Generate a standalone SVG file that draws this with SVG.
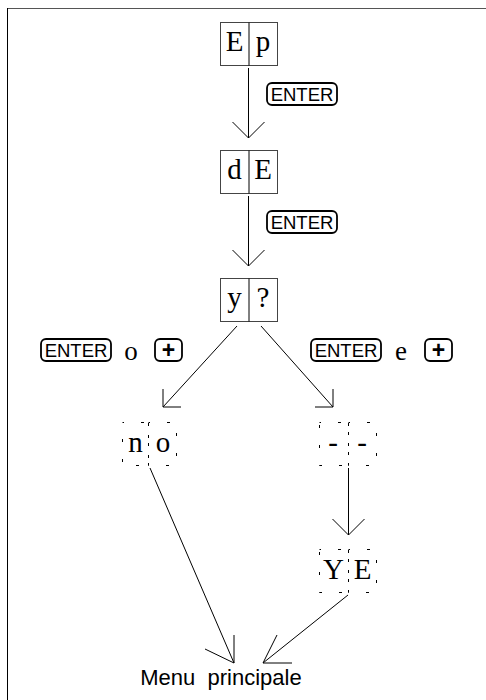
<svg xmlns="http://www.w3.org/2000/svg" width="486" height="700" viewBox="0 0 486 700">
  <style>
    .cell { fill: none; stroke: #444; stroke-width: 1; }
    .div { stroke: #000; stroke-width: 1; }
    .dash { fill: none; stroke: #000; stroke-width: 1; stroke-dasharray: 3 17; stroke-dashoffset: 1.5; }
    .ch { font-family: "Liberation Serif", serif; font-size: 29px; text-anchor: middle; fill: #000; }
    .key { fill: none; stroke: #000; stroke-width: 1.8; }
    .keyt { font-family: "Liberation Sans", Arial, sans-serif; font-size: 18.5px; text-anchor: middle; fill: #000; }
    .plus { font-family: "Liberation Sans", Arial, sans-serif; font-size: 23px; font-weight: bold; text-anchor: middle; fill: #000; }
    .op { font-family: "Liberation Serif", serif; font-size: 27px; text-anchor: middle; fill: #000; }
    .ln { fill: none; stroke: #000; stroke-width: 1; }
    .menu { font-family: "Liberation Sans", Arial, sans-serif; font-size: 22px; text-anchor: middle; fill: #000; white-space: pre; }
  </style>

  <!-- frame -->
  <line x1="7" y1="8.5" x2="486" y2="8.5" stroke="#555" stroke-width="1"/>
  <line x1="7.5" y1="8" x2="7.5" y2="700" stroke="#000" stroke-width="1"/>

  <!-- display states: solid two-digit displays -->
  <g id="state-ep">
    <rect class="cell" x="220.5" y="22.5" width="57" height="43"/>
    <line class="div" x1="249" y1="22.5" x2="249" y2="65.5"/>
    <text class="ch" x="234.5" y="51">E</text>
    <text class="ch" x="263" y="51">p</text>
  </g>
  <g id="state-de">
    <rect class="cell" x="220.5" y="150.5" width="57" height="43"/>
    <line class="div" x1="249" y1="150.5" x2="249" y2="193.5"/>
    <text class="ch" x="234.5" y="179">d</text>
    <text class="ch" x="263" y="179">E</text>
  </g>
  <g id="state-y">
    <rect class="cell" x="220.5" y="278.5" width="57" height="43"/>
    <line class="div" x1="249" y1="278.5" x2="249" y2="321.5"/>
    <text class="ch" x="234.5" y="307">y</text>
    <text class="ch" x="263" y="307">?</text>
  </g>

  <!-- display states: blinking digits, one dashed box per digit -->
  <g id="state-no">
    <rect class="dash" x="122.5" y="422.5" width="26" height="43"/>
    <rect class="dash" x="148.5" y="422.5" width="28" height="43"/>
    <text class="ch" x="135.5" y="452">n</text>
    <text class="ch" x="163" y="452">o</text>
  </g>
  <g id="state-dash">
    <rect class="dash" x="319.5" y="422.5" width="29" height="43"/>
    <rect class="dash" x="348.5" y="422.5" width="28" height="43"/>
    <text class="ch" x="333" y="452">-</text>
    <text class="ch" x="362" y="452">-</text>
  </g>
  <g id="state-ye">
    <rect class="dash" x="319.5" y="549.5" width="29" height="43"/>
    <rect class="dash" x="348.5" y="549.5" width="28" height="43"/>
    <text class="ch" x="333.5" y="579">Y</text>
    <text class="ch" x="362.5" y="579">E</text>
  </g>
  <g id="menu">
    <text class="menu" x="221" y="685">Menu  principale</text>
  </g>

  <!-- key labels -->
  <g id="label-enter-1">
    <rect class="key" x="267" y="83" width="70" height="22" rx="5"/>
    <text class="keyt" x="302" y="100.5">ENTER</text>
  </g>
  <g id="label-enter-2">
    <rect class="key" x="267" y="211" width="70" height="22" rx="5"/>
    <text class="keyt" x="302" y="228.5">ENTER</text>
  </g>
  <g id="label-no">
    <rect class="key" x="41" y="339" width="70" height="22" rx="5"/>
    <text class="keyt" x="76" y="356.5">ENTER</text>
    <text class="op" x="131" y="360">o</text>
    <rect class="key" x="155" y="339" width="27" height="22" rx="5"/>
    <text class="plus" x="168.5" y="358">+</text>
  </g>
  <g id="label-yes">
    <rect class="key" x="311" y="339" width="70" height="22" rx="5"/>
    <text class="keyt" x="346" y="356.5">ENTER</text>
    <text class="op" x="401" y="360">e</text>
    <rect class="key" x="425" y="339" width="27" height="22" rx="5"/>
    <text class="plus" x="438.5" y="358">+</text>
  </g>

  <!-- connectors -->
  <g id="connectors" class="ln">
    <path d="M248.5 68 V138 M232.5 122 L248.5 138 L264.5 122"/>
    <path d="M248.5 196 V266 M232.5 250 L248.5 266 L264.5 250"/>
    <path d="M237 326 L163 407 M163 389 V407 H181"/>
    <path d="M261 326 L333 407 M333 389 V407 H315"/>
    <path d="M348.5 468 V535 M332.5 519 L348.5 535 L364.5 519"/>
    <path d="M150 468 L234 663 M234 635 V663 L205 649"/>
    <path d="M348 595 L263 663 M277 635 L263 663 H292"/>
  </g>
</svg>
